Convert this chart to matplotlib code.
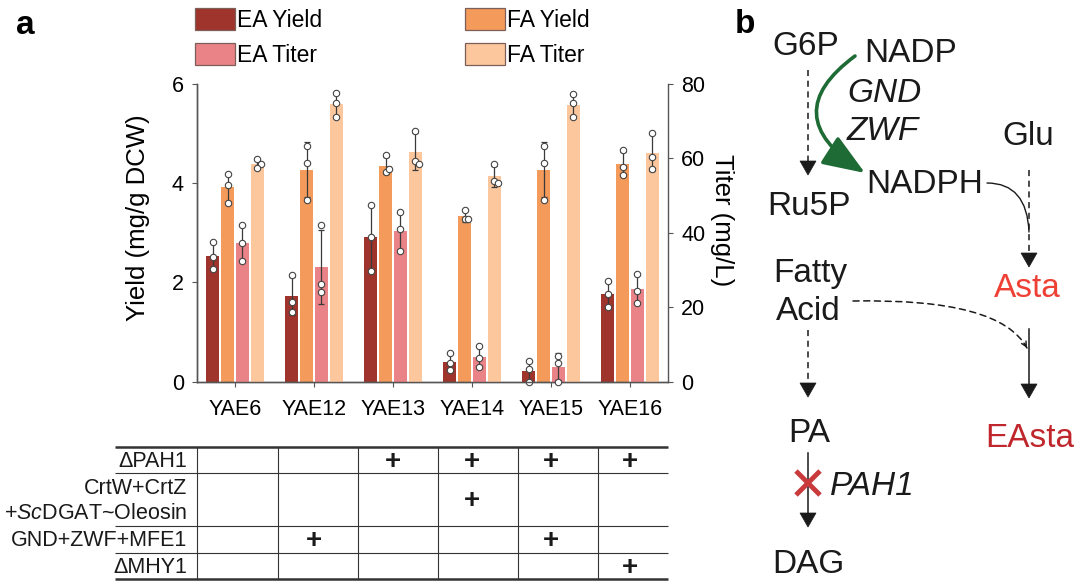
import numpy as np
import matplotlib as mpl
mpl.use("Agg")
import matplotlib.pyplot as plt
from matplotlib.patches import Patch, Polygon, FancyArrowPatch
from matplotlib.path import Path

mpl.rcParams.update({
    "font.family": ["Liberation Sans", "DejaVu Sans"],
    "mathtext.fontset": "custom",
    "mathtext.rm": "Liberation Sans",
    "mathtext.it": "Liberation Sans:italic",
})

# --- data (three replicates per strain) ---
STRAINS = ["YAE6", "YAE12", "YAE13", "YAE14", "YAE15", "YAE16"]
EA_YIELD = [[2.82, 2.51, 2.27], [2.16, 1.61, 1.41], [3.56, 2.92, 2.24],
            [0.58, 0.38, 0.24], [0.42, 0.25, 0.00], [2.02, 1.76, 1.50]]
FA_YIELD = [[4.19, 3.96, 3.61], [4.75, 4.40, 3.66], [4.56, 4.23, 4.28],
            [3.46, 3.27, 3.27], [4.75, 4.40, 3.66], [4.66, 4.33, 4.17]]
EA_TITER = [[42.1, 37.2, 32.4], [42.1, 26.3, 24.0], [45.7, 41.0, 35.1],
            [9.6, 6.3, 3.9], [6.9, 5.1, 0.0], [28.9, 24.5, 21.2]]
FA_TITER = [[59.8, 58.5, 57.3], [77.5, 74.8, 71.2], [67.5, 59.4, 58.5],
            [58.5, 53.8, 53.3], [77.2, 74.8, 71.2], [66.9, 60.5, 57.1]]

# genetic modifications per strain (1 = present)
MODS = ["ΔPAH1", "CrtW+CrtZ\n+$\\mathit{Sc}$DGAT~Oleosin", "GND+ZWF+MFE1", "ΔMHY1"]
MOD_TABLE = [[0, 0, 1, 1, 1, 1],
             [0, 0, 0, 1, 0, 0],
             [0, 1, 0, 0, 1, 0],
             [0, 0, 0, 0, 0, 1]]

C_EAY, C_FAY, C_EAT, C_FAT = "#9E342B", "#F49A5B", "#E98387", "#FDC79E"
INK = "#1a1a1a"
SPINE = "#555555"

W, H = 1080, 583
fig = plt.figure(figsize=(W / 100, H / 100), dpi=100)


def box(x0, y0, x1, y1):
    return [x0 / W, 1 - y1 / H, (x1 - x0) / W, (y1 - y0) / H]


# overlay in pixel units for panel b and the panel letters
ov = fig.add_axes([0, 0, 1, 1])
ov.set_xlim(0, W)
ov.set_ylim(H, 0)
ov.axis("off")

# --- panel a: bars ---
ax = fig.add_axes(box(197, 84, 668, 381.7))
ax.set_facecolor("none")
ax2 = ax.twinx()
x = np.arange(len(STRAINS))
step, width = 0.189, 0.16


def draw(axis, k, reps, color, thr):
    reps = np.asarray(reps, dtype=float)
    mean = reps.mean(axis=1)
    sd = reps.std(axis=1, ddof=1)
    xs = x + (k - 1.5) * step
    axis.bar(xs, mean, width, color=color, zorder=2)
    axis.errorbar(xs, mean, yerr=sd, fmt="none", ecolor="#3a3a3a",
                  elinewidth=0.9, capsize=2.2, capthick=0.9, zorder=3)
    for xi, vals in zip(xs, reps):
        offs = []
        for j, v in enumerate(vals):
            o = 0.0
            for i in range(j):
                if abs(vals[i] - v) < thr and abs(offs[i] - o) < 0.01:
                    o = 0.04 if offs[i] <= 0 else -0.04
            offs.append(o)
        axis.plot(xi + np.array(offs), vals, "o", ms=4.6, mfc="white",
                  mec="#444444", mew=0.8, zorder=4, clip_on=False)


draw(ax, 0, EA_YIELD, C_EAY, 0.12)
draw(ax, 1, FA_YIELD, C_FAY, 0.12)
draw(ax2, 2, EA_TITER, C_EAT, 1.6)
draw(ax2, 3, FA_TITER, C_FAT, 1.6)

ax.set_xlim(-0.481, 5.481)
ax.set_ylim(0, 6)
ax2.set_ylim(0, 80)
ax.set_yticks([0, 2, 4, 6])
ax2.set_yticks([0, 20, 40, 60, 80])
ax.set_xticks(x, STRAINS)
for a in (ax, ax2):
    a.spines["top"].set_visible(False)
    for s in a.spines.values():
        s.set_color(SPINE)
        s.set_linewidth(1.0)
ax.spines["right"].set_visible(False)
ax.tick_params(axis="y", labelsize=15.5, length=3.5, color=SPINE, pad=6)
ax.tick_params(axis="x", labelsize=15.5, length=3.5, color=SPINE, pad=9)
ax2.tick_params(axis="y", labelsize=15.5, length=3.5, color=SPINE, pad=6)
ax.set_ylabel("Yield (mg/g DCW)", fontsize=18.5, va="center", ha="center")
ax.yaxis.set_label_coords(-0.126, 0.55)
ax2.set_ylabel("Titer (mg/L)", fontsize=18.5, rotation=270, va="center",
               ha="center")
ax2.yaxis.set_label_coords(1.115, 0.543)

handles = [Patch(fc=c, ec="#7d5f5a", lw=0.9) for c in (C_EAY, C_EAT, C_FAY, C_FAT)]
fig.legend(handles, ["EA Yield", "EA Titer", "FA Yield", "FA Titer"],
           loc="upper left", bbox_to_anchor=(195 / W, 1 - 8 / H), ncol=2,
           frameon=False, fontsize=16.5, handlelength=1.75, handleheight=1.09,
           handletextpad=0.1, labelspacing=0.5, columnspacing=6.2,
           borderpad=0, borderaxespad=0)

# --- strain construction table ---
tab = fig.add_axes(box(197, 446.7, 668, 579.3))
tab.set_xlim(ax.get_xlim())
tab.set_ylim(5, 0)
tab.axis("off")
x0, x1 = ax.get_xlim()
pxu = 471 / (x1 - x0)
tx_left = x0 - (197 - 115) / pxu
tx_lab = x0 - (197 - 187) / pxu
row_edges = [0, 1, 3, 4, 5]
row_mid = [0.5, 2.0, 3.5, 4.5]
for r in row_edges:
    lw = 1.8 if r in (0, 5) else 0.8
    tab.plot([tx_left, x1], [r, r], color="#333333", lw=lw, clip_on=False,
             solid_capstyle="butt")
for c in [-0.475, 0.545, 1.555, 2.57, 3.58, 4.6]:
    tab.plot([c, c], [0, 5], color="#333333", lw=0.8, clip_on=False)
for r, (name, row) in enumerate(zip(MODS, MOD_TABLE)):
    tab.text(tx_lab, row_mid[r] + 0.05, name, fontsize=15.5, ha="right",
             va="center", linespacing=1.25, color=INK)
    for i, on in enumerate(row):
        if on:
            tab.text(x[i], row_mid[r] + 0.06, "+", fontsize=20, ha="center",
                     va="center", fontweight="bold", color=INK)

# --- panel letters ---
ov.text(25, 33.5, "a", fontsize=24, fontweight="bold", ha="center", va="baseline")
ov.text(745, 33, "b", fontsize=24, fontweight="bold", ha="center", va="baseline")

# --- panel b: pathway schematic ---
def label(px, py, s, color=INK, style="normal", ha="center"):
    ov.text(px, py, s, fontsize=24, color=color, style=style, ha=ha,
            va="baseline")


def head(px, py, color=INK, w=8, h=14):
    ov.add_patch(Polygon([(px - w, py - h), (px + w, py - h), (px, py)],
                         closed=True, fc=color, ec=color, lw=0.5))


def vline(px, y0, y1, dashed):
    ov.plot([px, px], [y0, y1], color=INK, lw=1.1,
            ls=(0, (4, 3)) if dashed else "-")


label(806, 55, "G6P")
label(911, 62, "NADP")
label(884, 102, "GND", style="italic")
label(883, 140, "ZWF", style="italic")
label(1028, 145, "Glu")
label(809, 215, "Ru5P")
label(925, 193, "NADPH")
label(810, 282, "Fatty")
label(808, 320, "Acid")
label(1027, 297, "Asta", color="#EE4035")
label(809, 442, "PA")
label(1030, 447, "EAsta", color="#C0272D")
label(830, 495, "PAH1", style="italic", ha="left")
label(808, 573, "DAG")

# G6P -> Ru5P
vline(808, 70, 162, True)
head(808, 175)
# NADP -> NADPH (GND, ZWF)
green = Path([(855, 56), (775, 115), (865, 173)],
             [Path.MOVETO, Path.CURVE3, Path.CURVE3])
ov.add_patch(FancyArrowPatch(path=green, arrowstyle="-|>,head_length=1.3,head_width=0.5",
                             mutation_scale=20, lw=2.6, color="#1F6B35"))
# NADPH joins Glu -> Asta
nadph = Path([(987, 183), (1027, 183), (1029, 232)],
             [Path.MOVETO, Path.CURVE3, Path.CURVE3])
ov.add_patch(FancyArrowPatch(path=nadph, arrowstyle="-", lw=1.0, color=INK))
vline(1029, 170, 254, True)
head(1029, 267)
# Fatty acid joins Asta -> EAsta
fa = Path([(853, 301), (1000, 298), (1027, 348)],
          [Path.MOVETO, Path.CURVE3, Path.CURVE3])
ov.add_patch(FancyArrowPatch(path=fa, arrowstyle="-", lw=1.1, color=INK,
                             linestyle=(0, (4, 3))))
ov.annotate("", xy=(1027, 348), xytext=(1024.5, 343.5),
            arrowprops=dict(arrowstyle="->", lw=1.0, color=INK,
                            shrinkA=0, shrinkB=0, mutation_scale=9))
vline(1029, 329, 385, False)
head(1029, 398)
# Fatty acid -> PA -> DAG
vline(808, 330, 384, True)
head(808, 397)
vline(808, 453, 514, False)
head(808, 527)
ov.plot([796, 820], [471, 495], color="#C83A3C", lw=3.5, solid_capstyle="butt")
ov.plot([796, 820], [495, 471], color="#C83A3C", lw=3.5, solid_capstyle="butt")

fig.savefig("out.png", dpi=100)
